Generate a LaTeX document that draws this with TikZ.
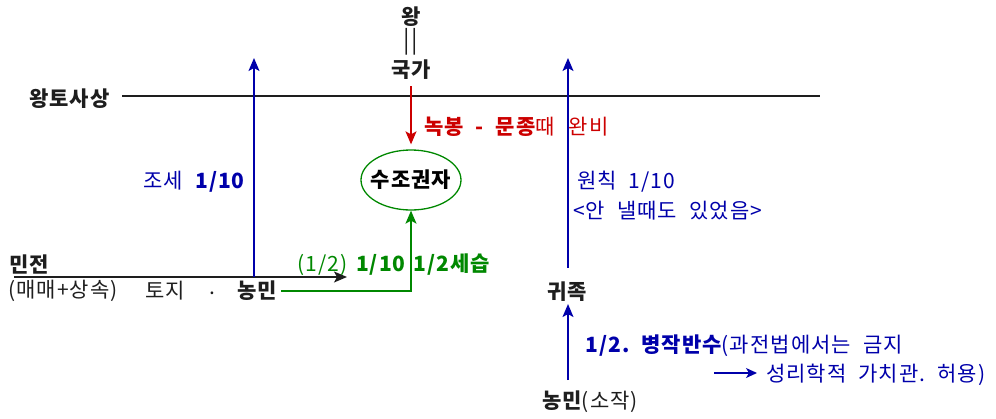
\documentclass[tikz,border=0pt]{standalone}
\usepackage{fontspec}
\setmainfont{Noto Sans CJK KR}[LetterSpace=5]
\usetikzlibrary{arrows.meta,shapes.geometric}
\definecolor{cblue}{RGB}{0,0,170}
\definecolor{cred}{RGB}{204,0,0}
\definecolor{cgreen}{RGB}{0,136,0}
\definecolor{ctext}{RGB}{30,30,30}
\newcommand{\gap}{\hspace{12pt}}
\tikzset{
  lbl/.style={inner sep=0pt, text=ctext},
  conn/.style={line width=1.4pt, -{Stealth[length=13pt,width=11pt,inset=3pt]}},
  plain/.style={line width=1.4pt},
}
\begin{document}
\begin{tikzpicture}[x=1pt,y=-1pt,font=\fontsize{21}{24}\selectfont]
\useasboundingbox (0,0) rectangle (996,418);
% top
\node[lbl] (wang) at (411,17) {\bfseries 왕};
\node[lbl,font=\fontsize{24}{26}\selectfont] (eq) at (411,42) {||};
\node[lbl] (gukga) at (411,70) {\bfseries 국가};
\node[lbl,anchor=west] (wangto) at (29,99) {\bfseries 왕토사상};
\coordinate (lineL) at (122,96);
\coordinate (lineR) at (820,96);
\draw[plain,ctext] (lineL) -- (lineR);
% red
\node[draw=cgreen, ellipse, line width=1.3pt, minimum width=100pt, minimum height=60pt, inner sep=0pt] (sujo) at (411,180) {};
\node[lbl,text=black] (sujotxt) at (sujo.center) {\bfseries 수조권자};
\coordinate (redtop) at (411,86);
\draw[conn,cred] (redtop) -- ([yshift=5pt]sujo.north);
\node[lbl,anchor=west,text=cred] (nokbong) at (424,127) {\bfseries 녹봉\gap-\gap 문종\mdseries 때\hspace{14pt}완비};
% left
\coordinate (minL) at (14,277);
\coordinate (minR) at (347,277);
\coordinate (taxB) at (254,277);
\coordinate (taxT) at (254,58);
\draw[conn,ctext] (minL) -- (minR);
\draw[conn,cblue] (taxB) -- (taxT);
\node[lbl,anchor=east,text=cblue] (jose) at (245,182) {조세\gap\bfseries 1/10};
\node[lbl,anchor=west] (minjeon) at (9,264) {\bfseries 민전};
\node[lbl,anchor=west] (maemae) at (8,291) {(매매+상속)};
\node[lbl,anchor=west] (toji) at (145,291) {토지};
\node[lbl] (dot) at (212,293) {.};
\node[lbl,anchor=west] (nongmin) at (237,291) {\bfseries 농민};
\draw[conn,cgreen] ([xshift=4pt]nongmin.east) -| (sujo.south);
\node[lbl,anchor=west,text=cgreen] (green) at (297,265) {(1/2)\hspace{9pt}\bfseries 1/10\hspace{8pt}1/2세습};
% right
\node[lbl] (gwijok) at (567,292) {\bfseries 귀족};
\coordinate (rtop) at (568,58);
\draw[conn,cblue] ([xshift=1pt,yshift=14pt]gwijok.north) -- (rtop);
\node[lbl,anchor=west,text=cblue] (wonchik) at (577,182) {원칙\gap 1/10};
\node[lbl,anchor=west,text=cblue] (an) at (573,211) {<안\gap 낼때도\gap 있었음>};
\node[lbl,anchor=west] (nongmin2) at (542,402) {\bfseries 농민\mdseries (소작)};
\coordinate (n2top) at (568,380);
\draw[conn,cblue] (n2top) -- ([xshift=1pt,yshift=-2pt]gwijok.south);
\node[lbl,anchor=west,text=cblue] (byeongjak) at (585,346) {\bfseries 1/2.\gap 병작반수\mdseries (과전법에서는\gap 금지};
\coordinate (smL) at (714,373);
\coordinate (smR) at (757,373);
\draw[cblue,line width=1.4pt,-{Stealth[length=11pt,width=10pt,inset=3pt]}] (smL) -- (smR);
\node[lbl,anchor=west,text=cblue] (seongri) at (766,375) {성리학적\gap 가치관.\gap 허용)};
\end{tikzpicture}
\end{document}
